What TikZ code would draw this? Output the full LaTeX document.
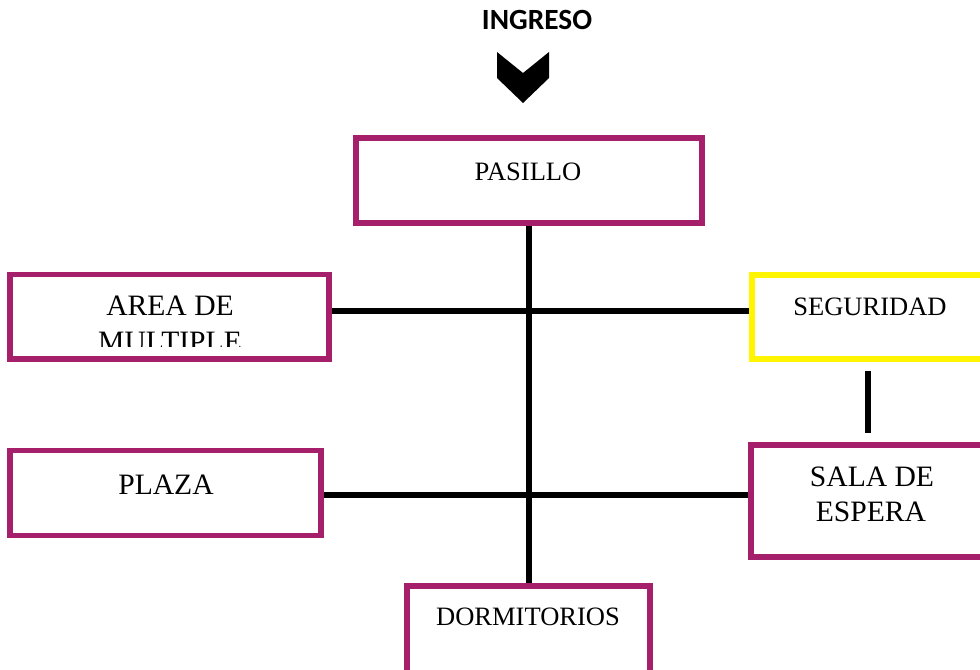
\documentclass[tikz,border=0pt]{standalone}
\usepackage{fontspec}
\setmainfont{Liberation Serif}
\newfontfamily\calib{Carlito}
\definecolor{mag}{RGB}{166,31,106}
\definecolor{yel}{RGB}{255,245,0}
\tikzset{
  box/.style={draw=mag, line width=4.4pt, rectangle, inner sep=0pt, fill=white},
  ybox/.style={box, draw=yel},
  conn/.style={draw=black, line width=4.4pt},
  lbl/.style={anchor=base, inner sep=0pt, font=\fontsize{19.9}{26}\selectfont},
  biglbl/.style={anchor=base, inner sep=0pt, font=\fontsize{22.2}{27}\selectfont},
}
\begin{document}
\begin{tikzpicture}[x=0.75pt, y=-0.75pt]
\clip (0,0) rectangle (980,669);
\fill[white] (0,0) rectangle (980,669);

% title and chevron
\node[anchor=base, inner sep=0pt, font=\calib\bfseries\fontsize{22}{26}\selectfont] (ing) at (537,29) {INGRESO};
\fill[black] (497,52) -- (523,73) -- (549,52) -- (549,78) -- (523,103) -- (497,78) -- cycle;

% boxes (size in px * 0.75)
\node[box, minimum width=260pt, minimum height=63.75pt] (pas) at (529,180.5) {};
\node[box, minimum width=239pt, minimum height=63.15pt] (area) at (169.65,316.6) {};
\node[ybox, minimum width=186pt, minimum height=63pt] (seg) at (876.3,316.7) {};
\node[box, minimum width=186.75pt, minimum height=84.25pt] (sala) at (875.8,500.85) {};
\node[box, minimum width=233pt, minimum height=63.75pt] (plaza) at (165.65,493) {};
\node[box, minimum width=182pt, minimum height=78pt] (dorm) at (528.75,638) {};

% connectors
\coordinate (r1) at (529,311);
\coordinate (r2) at (529,495);
\coordinate (c1) at (868,400);
\draw[conn] (pas.south) -- (pas.south |- dorm.north);
\draw[conn] (r1 -| area.east) -- (r1 -| seg.west);
\draw[conn] (r2 -| plaza.east) -- (r2 -| sala.west);
\draw[conn, shorten <=7.3pt, shorten >=6.5pt] (c1 |- seg.south) -- (c1 |- sala.north);

% labels
\node[lbl] (tpas) at (528,180) {PASILLO};
\node[biglbl] (tarea1) at (170,315) {AREA DE};
\begin{scope}
\clip (12,276) rectangle (327,346);
\node[biglbl] (tarea2) at (170,351) {MULTIPLE};
\end{scope}
\node[lbl] (tseg) at (870,315) {SEGURIDAD};
\node[biglbl] (tsala1) at (872,486) {SALA DE};
\node[biglbl] (tsala2) at (871,521) {ESPERA};
\node[biglbl] (tplaza) at (166,494) {PLAZA};
\node[lbl] (tdorm) at (528,625) {DORMITORIOS};
\end{tikzpicture}
\end{document}
